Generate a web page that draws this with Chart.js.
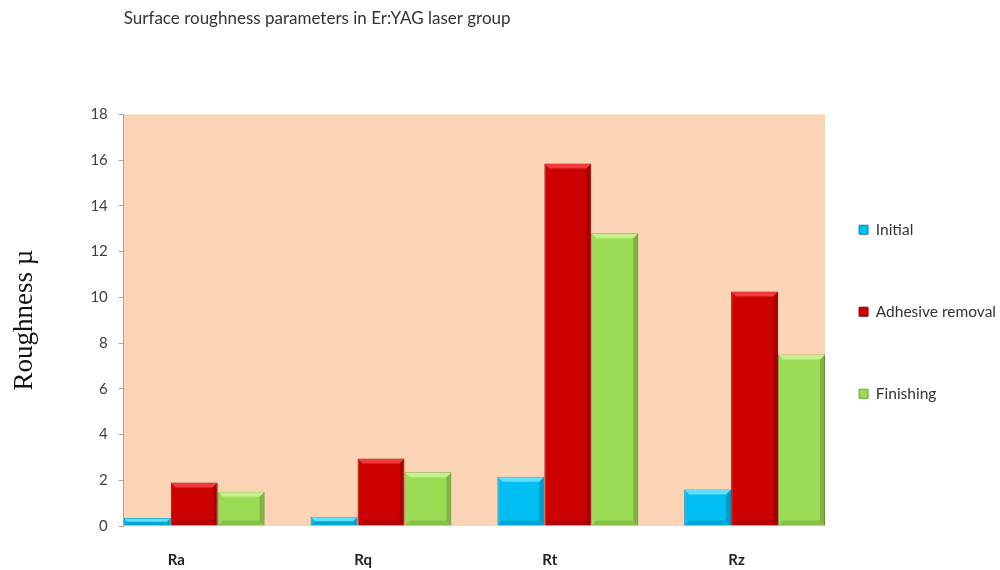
<!DOCTYPE html>
<html>
<head>
<meta charset="utf-8">
<script src="https://cdn.jsdelivr.net/npm/chart.js@4/dist/chart.umd.min.js"></script>
<style>
html,body{margin:0;padding:0;background:#fff;}
#wrap{width:1000px;height:570px;position:relative;}
</style>
</head>
<body>
<div id="wrap"><canvas id="c" width="1000" height="570"></canvas></div>
<script>
const categories = ['Ra', 'Rq', 'Rt', 'Rz'];
const initialVals = [0.35, 0.4, 2.15, 1.6];
const adhesiveVals = [1.9, 2.95, 15.85, 10.25];
const finishingVals = [1.5, 2.35, 12.8, 7.5];
const seriesNames = ['Initial', 'Adhesive removal', 'Finishing'];
const yTicks = [0, 2, 4, 6, 8, 10, 12, 14, 16, 18];

const fills = ['#00bdf2', '#cc0000', '#9bdc55'];
const tops = ['#5ee0ff', '#f03a3a', '#c4f08e'];
const edges = ['#0088b8', '#8e0000', '#6c9c3a'];

const toPts = vals => vals.map((v, i) => ({x: i, y: v}));

const plotBg = {
  id: 'plotBg',
  beforeDraw(chart) {
    const {ctx, chartArea: a} = chart;
    ctx.save();
    ctx.fillStyle = '#fbd4b5';
    ctx.fillRect(a.left, a.top, a.right - a.left, a.bottom - a.top);
    ctx.restore();
  }
};

const bevel = {
  id: 'bevel',
  afterDatasetsDraw(chart) {
    const ctx = chart.ctx;
    chart.data.datasets.forEach((ds, di) => {
      const meta = chart.getDatasetMeta(di);
      meta.data.forEach(bar => {
        const {x, y, base, width} = bar.getProps(['x', 'y', 'base', 'width'], true);
        const l = x - width / 2, r = x + width / 2;
        const h = base - y;
        const b = Math.min(5, h / 2);
        ctx.save();
        ctx.fillStyle = tops[di];
        ctx.beginPath();
        ctx.moveTo(l + 0.5, y + 0.5);
        ctx.lineTo(r - 0.5, y + 0.5);
        ctx.lineTo(r - b, y + b);
        ctx.lineTo(l + b, y + b);
        ctx.closePath();
        ctx.fill();
        ctx.fillStyle = 'rgba(0,0,0,0.18)';
        ctx.beginPath();
        ctx.moveTo(r - 0.5, y + 0.5);
        ctx.lineTo(r - 0.5, base);
        ctx.lineTo(r - b, base - b);
        ctx.lineTo(r - b, y + b);
        ctx.closePath();
        ctx.fill();
        ctx.fillStyle = 'rgba(0,0,0,0.12)';
        ctx.beginPath();
        ctx.moveTo(l + 0.5, base);
        ctx.lineTo(r - 0.5, base);
        ctx.lineTo(r - b, base - b);
        ctx.lineTo(l + b, base - b);
        ctx.closePath();
        ctx.fill();
        ctx.restore();
      });
    });
  }
};

new Chart(document.getElementById('c'), {
  type: 'bar',
  data: {
    datasets: [
      {label: seriesNames[0], data: toPts(initialVals), backgroundColor: fills[0], borderColor: edges[0], borderWidth: 1},
      {label: seriesNames[1], data: toPts(adhesiveVals), backgroundColor: fills[1], borderColor: edges[1], borderWidth: 1},
      {label: seriesNames[2], data: toPts(finishingVals), backgroundColor: fills[2], borderColor: edges[2], borderWidth: 1}
    ]
  },
  options: {
    responsive: false,
    animation: false,
    layout: {padding: {left: 9, right: -6, top: 8, bottom: -16}},
    datasets: {bar: {categoryPercentage: 0.754, barPercentage: 1.0}},
    scales: {
      x: {
        type: 'linear',
        offset: false,
        min: -0.377,
        max: 3.377,
        afterBuildTicks: s => { s.ticks = categories.map((c, i) => ({value: i})); },
        grid: {display: false, offset: false},
        border: {display: false},
        ticks: {
          callback: v => categories[v],
          color: '#222',
          font: {family: 'Lato', size: 15, weight: 'bold'},
          padding: 17,
          labelOffset: -18,
          autoSkip: false,
          maxRotation: 0
        }
      },
      y: {
        min: 0,
        max: 18,
        afterBuildTicks: s => { s.ticks = yTicks.map(v => ({value: v})); },
        grid: {display: true, drawOnChartArea: false, drawTicks: true, tickLength: 5, color: '#a6a6a6'},
        border: {display: true, color: '#a6a6a6', width: 1},
        ticks: {color: '#404040', font: {family: 'Lato', size: 15}, padding: 11},
        title: {
          display: true,
          text: 'Roughness µ',
          color: '#111',
          font: {family: 'Liberation Serif', size: 27},
          padding: {top: 0, bottom: 38}
        }
      }
    },
    plugins: {
      title: {
        display: true,
        text: 'Surface roughness parameters in Er:YAG laser group',
        align: 'start',
        fullSize: false,
        color: '#333',
        font: {family: 'Lato', size: 17, weight: 'normal'},
        padding: {top: 0, bottom: 86}
      },
      legend: {
        position: 'right',
        align: 'center',
        title: {display: true, text: '', font: {size: 10}, padding: 25},
        labels: {
          boxWidth: 9,
          boxHeight: 9,
          padding: 34,
          color: '#333',
          font: {family: 'Lato', size: 15.5, lineHeight: 3.097},
          generateLabels: chart => Chart.defaults.plugins.legend.labels.generateLabels(chart).map(it => Object.assign(it, {text: [it.text]}))
        }
      },
      tooltip: {enabled: false}
    }
  },
  plugins: [plotBg, bevel]
});
</script>
</body>
</html>
